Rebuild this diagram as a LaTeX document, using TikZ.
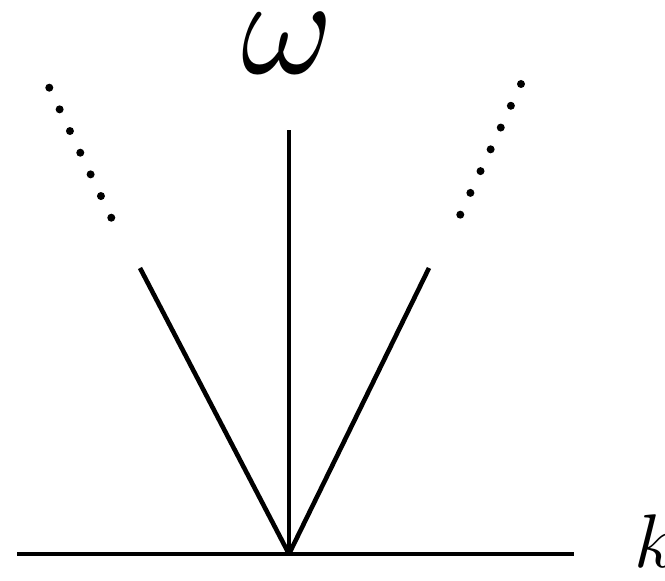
\documentclass[tikz,border=0pt]{standalone}
\usepackage{amsmath}
\begin{document}
\begin{tikzpicture}[x=0.5pt,y=-0.5pt,
  axisline/.style={line width=2.3pt},
  dotmark/.style={fill=black},
  lbl/.style={inner sep=0pt,anchor=base}]
\useasboundingbox (0,0) rectangle (665,581);
\coordinate (O) at (289,554);
\coordinate (Xl) at (17,554);
\coordinate (Xr) at (574,554);
\coordinate (Vt) at (289,130);
\coordinate (Lt) at (140,268);
\coordinate (Rt) at (429,268);
\draw[axisline] (Xl) -- (Xr);
\draw[axisline] (O) -- (Vt);
\draw[axisline] (O) -- (Lt);
\draw[axisline] (O) -- (Rt);
\foreach \i in {0,...,6} {
  \fill[dotmark] ({49.3+\i*10.33},{87.7+\i*21.67}) circle (4);
  \fill[dotmark] ({521-\i*10.12},{84+\i*21.78}) circle (4);
}
\node[lbl,scale=7] (w) at (288,74) {$\omega$};
\node[lbl,anchor=base west,scale=3.8] (k) at (633,568) {$k$};
\end{tikzpicture}
\end{document}
